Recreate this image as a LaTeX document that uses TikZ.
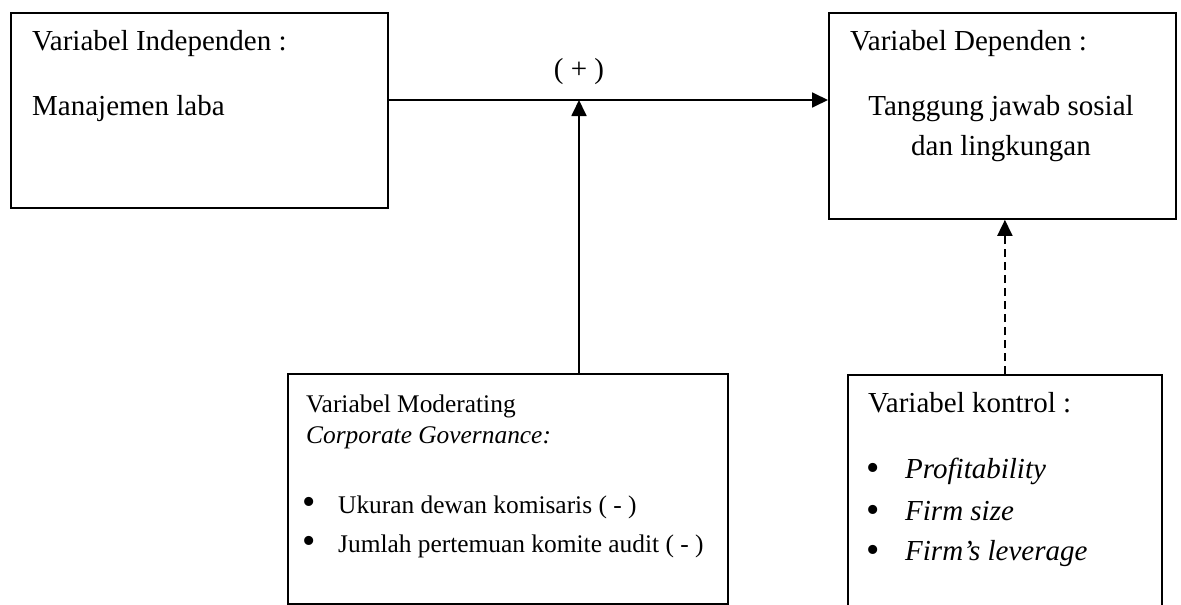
\documentclass[tikz,border=0pt]{standalone}
\usepackage{fontspec}
\setmainfont{Liberation Serif}
\usetikzlibrary{arrows.meta}
\begin{document}
\begin{tikzpicture}[x=1pt,y=-1pt,
  box/.style={draw=black,line width=1.8pt,anchor=north west,inner sep=0pt},
  txt/.style={anchor=base west,inner sep=0pt,font=\fontsize{29}{33}\selectfont},
  ctxt/.style={anchor=base,inner sep=0pt,font=\fontsize{29}{33}\selectfont},
  small/.style={font=\fontsize{25.4}{29}\selectfont},
  dot/.style={anchor=center,inner sep=0pt,font=\fontsize{38}{38}\selectfont},
  arr/.style={line width=1.8pt,-{Triangle[length=16pt,width=15pt]}}]
\useasboundingbox (0,0) rectangle (1181,605);
\clip (0,0) rectangle (1181,605);
% Box independen
\node (indep)[box,minimum width=377pt,minimum height=195pt] at (10,12) {};
\node (t11)[txt] at (32,50) {Variabel Independen :};
\node (t12)[txt] at (32,115) {Manajemen laba};
% Box dependen
\node (dep)[box,minimum width=347pt,minimum height=206pt] at (828,12) {};
\node (t21)[txt] at (850,50) {Variabel Dependen :};
\node (t22)[ctxt] at (1001,115) {Tanggung jawab sosial};
\node (t23)[ctxt] at (1001,155) {dan lingkungan};
% Box moderating
\node (moder)[box,minimum width=440pt,minimum height=230pt] at (287,373) {};
\node (t31)[txt,small] at (306,412) {Variabel Moderating};
\node (t32)[txt,small] at (306,443) {\itshape Corporate Governance:};
\node (b31)[dot] at (309,506) {\textbullet};
\node (t33)[txt,small] at (338,513) {Ukuran dewan komisaris ( - )};
\node (b32)[dot] at (309,545) {\textbullet};
\node (t34)[txt,small] at (338,552) {Jumlah pertemuan komite audit ( - )};
% Box kontrol
\node (kontrol)[box,minimum width=314pt,minimum height=280pt] at (847,374) {};
\node (t41)[txt] at (868,412) {Variabel kontrol :};
\node (b41)[dot] at (873,472) {\textbullet};
\node (t42)[txt] at (905,478) {\itshape Profitability};
\node (b42)[dot] at (873,514) {\textbullet};
\node (t43)[txt] at (905,520) {\itshape Firm size};
\node (b43)[dot] at (873,554) {\textbullet};
\node (t44)[txt] at (905,560) {\itshape Firm’s leverage};
% Arrows
\coordinate (hl) at (0,100);
\coordinate (meet) at (579,100);
\draw[arr] (indep.east |- hl) -- (dep.west |- hl);
\node (plus)[ctxt] at (579,78) {( + )};
\draw[arr] (moder.north -| meet) -- (meet);
\draw[arr,dash pattern=on 8pt off 5pt] (kontrol.north) -- (kontrol.north |- dep.south);
\end{tikzpicture}
\end{document}
